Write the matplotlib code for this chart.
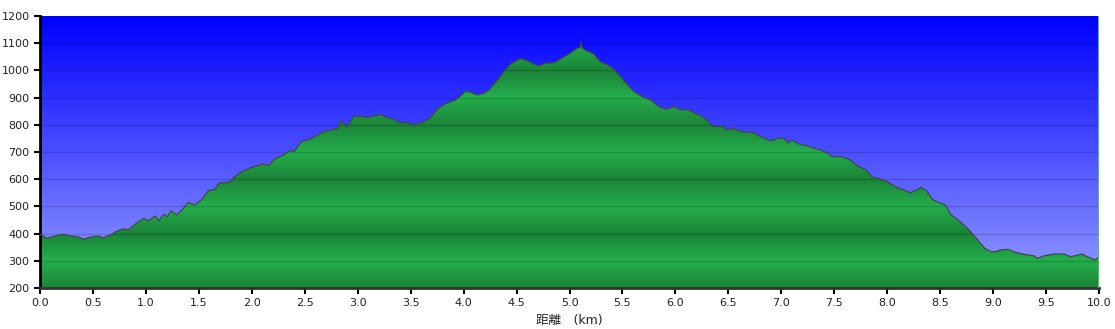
import numpy as np
import matplotlib.pyplot as plt
from matplotlib.colors import LinearSegmentedColormap

plt.rcParams['font.family'] = ['DejaVu Sans', 'Noto Sans CJK JP']

# distance (km) and elevation (m)
dist = [0.00, 0.01, 0.06, 0.14, 0.22, 0.28, 0.35, 0.42, 0.47, 0.55, 0.60, 0.68, 0.72,
        0.79, 0.83, 0.90, 0.98, 1.02, 1.09, 1.12, 1.17, 1.20, 1.24, 1.29, 1.34, 1.40,
        1.46, 1.53, 1.59, 1.65, 1.69, 1.75, 1.80, 1.83, 1.92, 2.02, 2.11, 2.16, 2.21,
        2.30, 2.36, 2.40, 2.47, 2.55, 2.62, 2.68, 2.76, 2.81, 2.84, 2.90, 2.96, 3.02,
        3.09, 3.15, 3.21, 3.28, 3.34, 3.40, 3.48, 3.53, 3.62, 3.69, 3.76, 3.84, 3.92,
        3.97, 4.02, 4.06, 4.13, 4.19, 4.24, 4.32, 4.38, 4.44, 4.51, 4.54, 4.60, 4.66,
        4.71, 4.77, 4.85, 4.91, 4.98, 5.04, 5.07, 5.10, 5.11, 5.12, 5.15, 5.23, 5.29,
        5.36, 5.42, 5.48, 5.55, 5.61, 5.69, 5.77, 5.84, 5.92, 5.99, 6.05, 6.11, 6.19,
        6.27, 6.36, 6.44, 6.49, 6.55, 6.62, 6.74, 6.81, 6.90, 6.96, 7.02, 7.06, 7.10,
        7.17, 7.25, 7.31, 7.37, 7.44, 7.48, 7.56, 7.64, 7.72, 7.80, 7.86, 7.92, 8.00,
        8.08, 8.16, 8.22, 8.27, 8.32, 8.37, 8.43, 8.49, 8.55, 8.60, 8.68, 8.76, 8.84,
        8.92, 8.98, 9.03, 9.07, 9.14, 9.22, 9.29, 9.39, 9.42, 9.48, 9.58, 9.67, 9.73,
        9.84, 9.89, 9.96, 10.00]
elev = [395, 396, 383, 391, 398, 391, 389, 379, 387, 391, 384, 398, 408,
        418, 413, 435, 456, 447, 465, 447, 472, 461, 484, 469, 487, 514,
        505, 526, 558, 563, 585, 588, 591, 607, 631, 646, 656, 650, 673,
        689, 705, 702, 738, 747, 762, 775, 783, 786, 815, 793, 830, 832,
        827, 832, 837, 827, 820, 808, 808, 799, 811, 827, 861, 879, 891,
        906, 924, 921, 910, 916, 928, 965, 995, 1022, 1038, 1044, 1036, 1024,
        1016, 1026, 1028, 1041, 1057, 1072, 1081, 1084, 1104, 1082, 1075, 1060, 1032,
        1020, 1004, 977, 946, 922, 903, 891, 867, 857, 867, 854, 857, 842,
        827, 793, 796, 781, 787, 775, 771, 756, 741, 750, 752, 734, 744,
        729, 722, 714, 707, 695, 683, 683, 673, 649, 634, 607, 603, 591,
        572, 560, 550, 560, 569, 558, 525, 514, 505, 470, 447, 419, 383,
        346, 334, 334, 340, 342, 330, 324, 318, 309, 318, 325, 325, 315,
        325, 315, 303, 313]

x_ticks = [0.0, 0.5, 1.0, 1.5, 2.0, 2.5, 3.0, 3.5, 4.0, 4.5, 5.0, 5.5, 6.0, 6.5,
           7.0, 7.5, 8.0, 8.5, 9.0, 9.5, 10.0]
y_ticks = [200, 300, 400, 500, 600, 700, 800, 900, 1000, 1100, 1200]

fig = plt.figure(figsize=(11.15, 3.29), dpi=100)
ax = fig.add_axes([40/1115, 1-288/329, 1059/1115, 272/329])
ax.set_xlim(0, 10.0)
ax.set_ylim(200, 1200)

# sky gradient: blue at top fading to lavender
sky = LinearSegmentedColormap.from_list('sky', [(150/255, 158/255, 1.0), (0, 0, 1.0)])
ax.imshow(np.linspace(0, 1, 256).reshape(-1, 1), cmap=sky, aspect='auto',
          extent=(0, 10.0, 200, 1200), origin='lower', zorder=0)

# green fill with banded shading (bright at odd hundreds), clipped to the profile
poly = ax.fill_between(dist, elev, 200, color='none', lw=0, zorder=1)
yy = np.linspace(200, 1200, 2000)
band = np.abs(((yy - 300) % 200) - 100) / 100
grn = LinearSegmentedColormap.from_list('grn', ['#1b8438', '#24ae4c'])
im = ax.imshow(band.reshape(-1, 1), cmap=grn, aspect='auto',
               extent=(0, 10.0, 200, 1200), origin='lower', zorder=1)
im.set_clip_path(poly.get_paths()[0], transform=ax.transData)
ax.plot(dist, elev, color='#404a44', lw=0.9, zorder=3)

for v in y_ticks[1:-1]:
    ax.axhline(v, color='black', alpha=0.16, lw=1, zorder=2)
ax.axvline(10.0, color='#3cc85a', lw=1.5, zorder=4)

ax.set_xticks(x_ticks)
ax.set_xticklabels([f'{t:.1f}' for t in x_ticks])
ax.set_yticks(y_ticks)
ax.tick_params(direction='out', length=4, width=1.5, labelsize=8, colors='black',
               labelcolor='#222222')
for s in ['top', 'right']:
    ax.spines[s].set_visible(False)
ax.spines['left'].set_linewidth(2)
ax.spines['bottom'].set_linewidth(2)
ax.spines['bottom'].set_color('#333333')

ax.set_xlabel('距離　(km)', fontsize=9, color='#222222', labelpad=4)

fig.savefig('out.png', dpi=100)
